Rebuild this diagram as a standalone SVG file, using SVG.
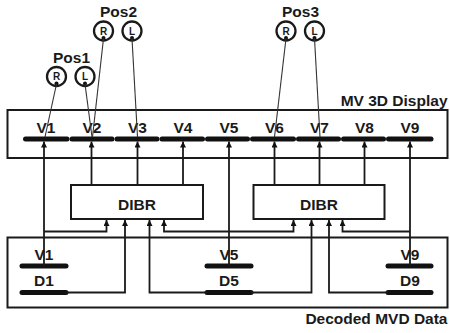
<svg xmlns="http://www.w3.org/2000/svg" width="450" height="333" viewBox="0 0 450 333">
<style>
text{font-family:"Liberation Sans",Arial,sans-serif;font-weight:bold;fill:#1a1a1a}
.lbl{font-size:15.5px;text-anchor:middle}
.ttl{font-size:15.5px;text-anchor:end}
.rl{font-size:10px;text-anchor:middle}
.box{fill:none;stroke:#1a1a1a;stroke-width:2}
.dibr{fill:#fff;stroke:#1a1a1a;stroke-width:2}
.bar{stroke:#111;stroke-width:5;stroke-linecap:round}
.conn{fill:none;stroke:#1a1a1a;stroke-width:1.8}
.ray{stroke:#333;stroke-width:1.1}
.cam{fill:#fff;stroke:#1a1a1a;stroke-width:2.3}
</style>
<defs>
<marker id="ah" viewBox="0 0 10 10" refX="10" refY="5" markerWidth="6" markerHeight="6" orient="auto" markerUnits="userSpaceOnUse"><path d="M0,0L10,5L0,10z" fill="#111"/></marker>
</defs>

<g id="display">
<rect class="box" x="7.5" y="110" width="440" height="48"/>
<text class="ttl" x="447.5" y="105.5">MV 3D Display</text>
<g>
<line class="bar" x1="25.5" y1="139" x2="67" y2="139"/>
<line class="bar" x1="72" y1="139" x2="112" y2="139"/>
<line class="bar" x1="117" y1="139" x2="157" y2="139"/>
<line class="bar" x1="162" y1="139" x2="202.5" y2="139"/>
<line class="bar" x1="207.5" y1="139" x2="247.5" y2="139"/>
<line class="bar" x1="252.5" y1="139" x2="293.5" y2="139"/>
<line class="bar" x1="298.5" y1="139" x2="338.5" y2="139"/>
<line class="bar" x1="343.5" y1="139" x2="383.5" y2="139"/>
<line class="bar" x1="388.5" y1="139" x2="431" y2="139"/>
</g>
<text class="lbl" x="46" y="132.5">V1</text>
<text class="lbl" x="92" y="132.5">V2</text>
<text class="lbl" x="137.5" y="132.5">V3</text>
<text class="lbl" x="183" y="132.5">V4</text>
<text class="lbl" x="229" y="132.5">V5</text>
<text class="lbl" x="274.5" y="132.5">V6</text>
<text class="lbl" x="319.5" y="132.5">V7</text>
<text class="lbl" x="364.5" y="132.5">V8</text>
<text class="lbl" x="410" y="132.5">V9</text>
</g>

<g id="dibr1">
<rect class="dibr" x="71" y="185" width="132" height="34"/>
<text class="lbl" x="137" y="210">DIBR</text>
</g>
<g id="dibr2">
<rect class="dibr" x="253.5" y="185" width="131" height="34"/>
<text class="lbl" x="319" y="210">DIBR</text>
</g>

<g id="decoded">
<rect class="box" x="7.5" y="237.5" width="440" height="70"/>
<text class="ttl" x="447.5" y="323.5">Decoded MVD Data</text>
<text class="lbl" x="44" y="260">V1</text>
<text class="lbl" x="44" y="286">D1</text>
<text class="lbl" x="229" y="260">V5</text>
<text class="lbl" x="229" y="286">D5</text>
<text class="lbl" x="410" y="260">V9</text>
<text class="lbl" x="410" y="286">D9</text>
<line class="bar" x1="22" y1="266" x2="66" y2="266"/>
<line class="bar" x1="22" y1="292.5" x2="66" y2="292.5"/>
<line class="bar" x1="207" y1="266" x2="251" y2="266"/>
<line class="bar" x1="207" y1="292.5" x2="251" y2="292.5"/>
<line class="bar" x1="388" y1="266" x2="431" y2="266"/>
<line class="bar" x1="388" y1="292.5" x2="431" y2="292.5"/>
</g>

<g id="pos1">
<text class="lbl" x="71.5" y="62.5">Pos1</text>
<circle class="cam" cx="56.5" cy="76.5" r="9.5"/>
<text class="rl" x="56.5" y="80">R</text>
<circle cx="56.5" cy="83.5" r="2" fill="#111"/>
<circle class="cam" cx="85" cy="76.5" r="9.5"/>
<text class="rl" x="85" y="80">L</text>
<circle cx="85" cy="83.5" r="2" fill="#111"/>
</g>
<g id="pos2">
<text class="lbl" x="118.5" y="17">Pos2</text>
<circle class="cam" cx="103.5" cy="31" r="9.5"/>
<text class="rl" x="103.5" y="34.5">R</text>
<circle cx="103.5" cy="38" r="2" fill="#111"/>
<circle class="cam" cx="132" cy="31" r="9.5"/>
<text class="rl" x="132" y="34.5">L</text>
<circle cx="132" cy="38" r="2" fill="#111"/>
</g>
<g id="pos3">
<text class="lbl" x="300.5" y="17">Pos3</text>
<circle class="cam" cx="286" cy="31" r="9.5"/>
<text class="rl" x="286" y="34.5">R</text>
<circle cx="286" cy="38" r="2" fill="#111"/>
<circle class="cam" cx="314.5" cy="31" r="9.5"/>
<text class="rl" x="314.5" y="34.5">L</text>
<circle cx="314.5" cy="38" r="2" fill="#111"/>
</g>

<g id="connectors">
<line class="ray" x1="56.5" y1="84" x2="45" y2="137"/>
<line class="ray" x1="85" y1="84" x2="92" y2="137"/>
<line class="ray" x1="103.5" y1="38.5" x2="92.5" y2="137"/>
<line class="ray" x1="132" y1="38.5" x2="137.5" y2="137"/>
<line class="ray" x1="286" y1="38.5" x2="274.5" y2="137"/>
<line class="ray" x1="314.5" y1="38.5" x2="320" y2="137"/>

<path class="conn" marker-end="url(#ah)" d="M91.5,185V141.5"/>
<path class="conn" marker-end="url(#ah)" d="M137.5,185V141.5"/>
<path class="conn" marker-end="url(#ah)" d="M183,185V141.5"/>
<path class="conn" marker-end="url(#ah)" d="M274.5,185V141.5"/>
<path class="conn" marker-end="url(#ah)" d="M319.5,185V141.5"/>
<path class="conn" marker-end="url(#ah)" d="M364.5,185V141.5"/>

<path class="conn" marker-end="url(#ah)" d="M44,266V141.5"/>
<path class="conn" marker-end="url(#ah)" d="M229,266V141.5"/>
<path class="conn" marker-end="url(#ah)" d="M410,266V141.5"/>

<path class="conn" marker-end="url(#ah)" d="M44,231.5H106.5V220"/>
<path class="conn" marker-end="url(#ah)" d="M66,292.5H125V220"/>
<path class="conn" marker-end="url(#ah)" d="M207,292.5H149.5V220"/>
<path class="conn" marker-end="url(#ah)" d="M229,231.5H164V220"/>
<path class="conn" marker-end="url(#ah)" d="M229,231.5H293.5V220"/>
<path class="conn" marker-end="url(#ah)" d="M251,292.5H311.5V220"/>
<path class="conn" marker-end="url(#ah)" d="M388,292.5H329V220"/>
<path class="conn" marker-end="url(#ah)" d="M410,231.5H342.5V220"/>
</g>
</svg>
